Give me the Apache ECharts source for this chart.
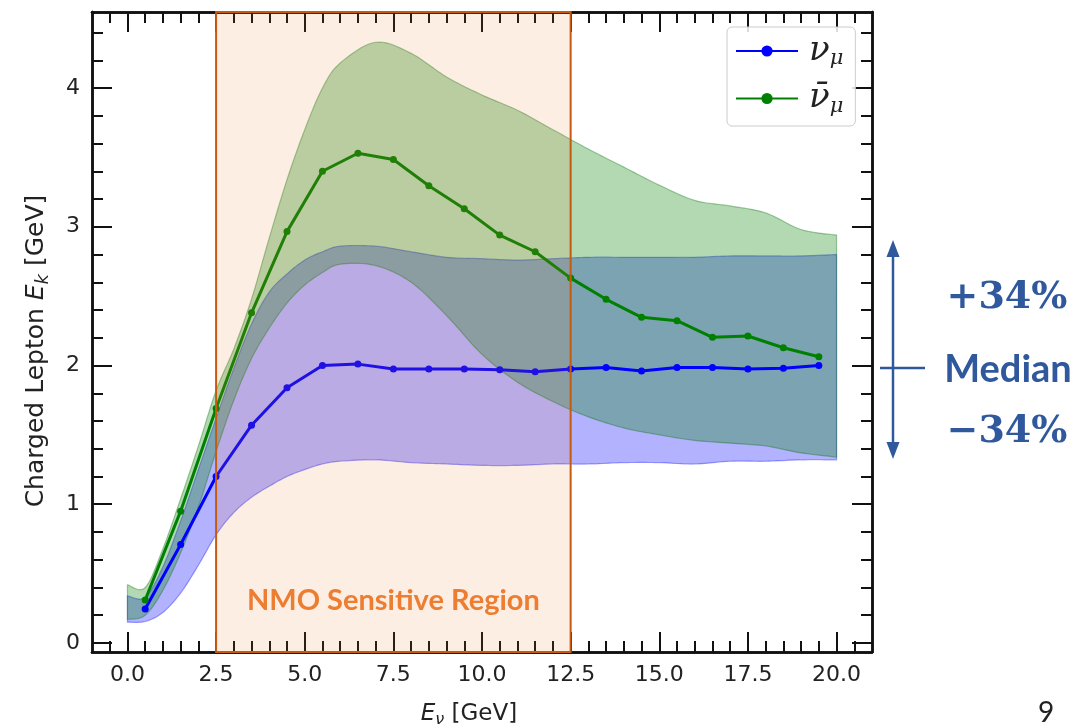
<!DOCTYPE html>
<html>
<head>
<meta charset="utf-8">
<script src="https://cdn.jsdelivr.net/npm/echarts@6/dist/echarts.min.js"></script>
<style>
  html, body { margin: 0; padding: 0; background: #ffffff; }
  #chart { width: 1081px; height: 727px; }
</style>
</head>
<body>
<div id="chart"></div>
<script>
// Neutrino energy grid for the ±34% bands (GeV)
const bandX = [0, 0.5, 1, 1.5, 2, 2.5, 3, 3.5, 4, 4.5, 5, 5.5, 6, 7, 8, 9, 10, 11, 12, 13, 14, 15, 16, 17, 18, 19, 20];
// nu_mu band: lower (-34%) and upper (+34%) edges of charged lepton energy
const numuLower = [0.15, 0.155, 0.22, 0.36, 0.56, 0.78, 0.94, 1.05, 1.13, 1.20, 1.25, 1.29, 1.31, 1.32, 1.30, 1.29, 1.28, 1.28, 1.29, 1.29, 1.30, 1.30, 1.29, 1.31, 1.31, 1.32, 1.32];
const numuUpper = [0.34, 0.33, 0.55, 0.88, 1.25, 1.62, 1.98, 2.30, 2.53, 2.66, 2.76, 2.82, 2.86, 2.86, 2.82, 2.78, 2.77, 2.76, 2.77, 2.78, 2.78, 2.78, 2.78, 2.79, 2.79, 2.79, 2.80];
// anti-nu_mu band edges
const numubarLower = [0.17, 0.20, 0.38, 0.65, 0.98, 1.38, 1.75, 2.05, 2.27, 2.45, 2.58, 2.67, 2.73, 2.72, 2.60, 2.36, 2.08, 1.88, 1.74, 1.63, 1.55, 1.50, 1.46, 1.44, 1.42, 1.37, 1.34];
const numubarUpper = [0.42, 0.40, 0.68, 1.04, 1.42, 1.82, 2.12, 2.48, 2.92, 3.34, 3.70, 4.00, 4.18, 4.33, 4.25, 4.08, 3.95, 3.84, 3.70, 3.56, 3.43, 3.30, 3.19, 3.15, 3.10, 2.98, 2.94];

// Bin centres and medians
const binCenters = [0.5, 1.5, 2.5, 3.5, 4.5, 5.5, 6.5, 7.5, 8.5, 9.5, 10.5, 11.5, 12.5, 13.5, 14.5, 15.5, 16.5, 17.5, 18.5, 19.5];
const numuMedian = [0.245, 0.71, 1.20, 1.57, 1.84, 2.00, 2.01, 1.975, 1.975, 1.975, 1.97, 1.955, 1.975, 1.985, 1.96, 1.985, 1.985, 1.975, 1.98, 2.00];
const numubarMedian = [0.31, 0.95, 1.69, 2.38, 2.965, 3.40, 3.53, 3.485, 3.296, 3.13, 2.94, 2.82, 2.63, 2.477, 2.347, 2.323, 2.203, 2.213, 2.128, 2.063];

// NMO sensitive energy window (GeV)
const nmoRegion = [2.5, 12.5];

// Tick positions
const xMajorTicks = [0, 2.5, 5, 7.5, 10, 12.5, 15, 17.5, 20];
const xMinorTicks = [-0.5, 0.5, 1, 1.5, 2, 3, 3.5, 4, 4.5, 5.5, 6, 6.5, 7, 8, 8.5, 9, 9.5, 10.5, 11, 11.5, 12, 13, 13.5, 14, 14.5, 15.5, 16, 16.5, 17, 18, 18.5, 19, 19.5, 20.5];
const yMajorTicks = [0, 1, 2, 3, 4];
const yMinorTicks = [0.2, 0.4, 0.6, 0.8, 1.2, 1.4, 1.6, 1.8, 2.2, 2.4, 2.6, 2.8, 3.2, 3.4, 3.6, 3.8, 4.2, 4.4];

const X_MIN = -1, X_MAX = 21, Y_MIN = -0.065, Y_MAX = 4.548;

const zip = (xs, ys) => xs.map((x, i) => [x, ys[i]]);

const TICK_COLOR = '#111';
const tickFont = { fontFamily: 'DejaVu Sans', fontSize: 22, color: '#222' };
const frame = { show: true, onZero: false, lineStyle: { color: TICK_COLOR, width: 2.5 } };
function nameRich(size) {
  return {
    t: { fontFamily: 'DejaVu Sans', fontSize: size, color: '#222' },
    i: { fontFamily: 'DejaVu Sans', fontStyle: 'italic', fontSize: size, color: '#222' },
    s: { fontFamily: 'DejaVu Sans', fontStyle: 'italic', fontSize: Math.round(size * 0.7), color: '#222', padding: [Math.round(size * 0.5), 0, 0, 0] }
  };
}

function axisDef(kind, grid, position, ticks, len, labels) {
  const isX = kind === 'x';
  return {
    type: 'value', gridIndex: grid, position,
    min: isX ? X_MIN : Y_MIN, max: isX ? X_MAX : Y_MAX,
    axisLine: frame,
    axisTick: { show: true, inside: true, length: len, customValues: ticks, lineStyle: { color: TICK_COLOR, width: 2 } },
    axisLabel: labels
      ? Object.assign({ show: true, margin: 12, customValues: isX ? xMajorTicks : yMajorTicks,
          formatter: v => isX ? v.toFixed(1) : String(v) }, tickFont)
      : { show: false },
    splitLine: { show: false }
  };
}

// grid 0 carries major ticks, labels and the data; grid 1 only minor ticks
const xAxes = [
  Object.assign(axisDef('x', 0, 'bottom', xMajorTicks, 20, true), {
    name: '{i|E}{s|ν}{t| [GeV]}', nameLocation: 'middle', nameGap: 48,
    nameTextStyle: { rich: nameRich(23), padding: [0, 26, 0, 0] }
  }),
  axisDef('x', 0, 'top', xMajorTicks, 20, false),
  axisDef('x', 1, 'bottom', xMinorTicks, 11, false),
  axisDef('x', 1, 'top', xMinorTicks, 11, false)
];
const yAxes = [
  Object.assign(axisDef('y', 0, 'left', yMajorTicks, 20, true), {
    name: '{t|Charged Lepton }{i|E}{s|k}{t| [GeV]}', nameLocation: 'middle', nameGap: 40,
    nameTextStyle: { rich: nameRich(25), padding: [0, 38, 0, 0] }
  }),
  axisDef('y', 0, 'right', yMajorTicks, 20, false),
  axisDef('y', 1, 'left', yMinorTicks, 11, false),
  axisDef('y', 1, 'right', yMinorTicks, 11, false)
];

// Catmull-Rom sampling of a pixel polyline, for smooth band outlines
function smoothPoints(pts, steps) {
  const out = [pts[0]];
  for (let i = 0; i < pts.length - 1; i++) {
    const p0 = pts[Math.max(i - 1, 0)], p1 = pts[i], p2 = pts[i + 1], p3 = pts[Math.min(i + 2, pts.length - 1)];
    for (let s = 1; s <= steps; s++) {
      const t = s / steps, t2 = t * t, t3 = t2 * t;
      const f = k => 0.5 * (2 * p1[k] + (-p0[k] + p2[k]) * t + (2 * p0[k] - 5 * p1[k] + 4 * p2[k] - p3[k]) * t2 + (-p0[k] + 3 * p1[k] - 3 * p2[k] + p3[k]) * t3);
      out.push([f(0), f(1)]);
    }
  }
  return out;
}

function bandSeries(name, lower, upper, fill, stroke) {
  return {
    type: 'custom', name, silent: true, z: 2,
    data: bandX.map((x, i) => [x, lower[i], upper[i]]),
    encode: { x: 0, y: [1, 2] },
    renderItem: (params, api) => {
      if (params.dataIndex !== 0) return null;
      const up = bandX.map((x, i) => api.coord([x, upper[i]]));
      const lo = bandX.map((x, i) => api.coord([x, lower[i]])).reverse();
      const pts = smoothPoints(up, 10).concat(smoothPoints(lo, 10));
      return {
        type: 'polygon',
        shape: { points: pts },
        style: { fill, stroke, lineWidth: 1.2 }
      };
    }
  };
}

const legendText = { numu: '{n|ν}{s|μ}', numubar: '{n|ν̄}{s|μ}' };
const ANNOT = '#30589c';
const gridBox = { left: 92, right: 209, top: 12, bottom: 75, containLabel: false, outerBoundsMode: 'none' };

const option = {
  backgroundColor: '#ffffff',
  animation: false,
  grid: [Object.assign({}, gridBox), Object.assign({}, gridBox)],
  xAxis: xAxes,
  yAxis: yAxes,
  legend: {
    data: ['numu', 'numubar'],
    orient: 'vertical',
    left: 727, top: 27,
    padding: [7, 12, 9, 8],
    itemGap: 12,
    itemWidth: 62,
    itemHeight: 14,
    backgroundColor: 'rgba(255,255,255,0.85)',
    borderColor: '#cccccc',
    borderWidth: 1,
    borderRadius: 5,
    formatter: name => legendText[name],
    textStyle: {
      rich: {
        n: { fontFamily: 'DejaVu Serif', fontStyle: 'italic', fontSize: 34, color: '#222', padding: [0, 0, 0, 6] },
        s: { fontFamily: 'DejaVu Serif', fontStyle: 'italic', fontSize: 21, color: '#222', padding: [16, 0, 0, 0] }
      }
    }
  },
  series: [
    bandSeries('numuBand', numuLower, numuUpper, 'rgba(0,0,255,0.3)', 'rgba(0,0,255,0.35)'),
    bandSeries('numubarBand', numubarLower, numubarUpper, 'rgba(0,128,0,0.3)', 'rgba(0,110,0,0.35)'),
    {
      type: 'line', name: 'numu', data: zip(binCenters, numuMedian),
      symbol: 'circle', symbolSize: 7, z: 4,
      itemStyle: { color: '#0000ff' },
      lineStyle: { color: '#0000ff', width: 3 }
    },
    {
      type: 'line', name: 'numubar', data: zip(binCenters, numubarMedian),
      symbol: 'circle', symbolSize: 7, z: 4,
      itemStyle: { color: '#008000' },
      lineStyle: { color: '#008000', width: 3 }
    },
    {
      type: 'custom', name: 'nmo', silent: true, z: 6,
      data: [nmoRegion],
      encode: { x: [0, 1] },
      renderItem: (params, api) => {
        const cs = params.coordSys;
        const x0 = api.coord([api.value(0), 0])[0];
        const x1 = api.coord([api.value(1), 0])[0];
        return {
          type: 'group',
          children: [
            {
              type: 'rect',
              shape: { x: x0, y: cs.y, width: x1 - x0, height: cs.height },
              style: { fill: 'rgba(237,125,49,0.13)', stroke: '#c55a11', lineWidth: 2 }
            },
            {
              type: 'text',
              style: {
                text: 'NMO Sensitive Region',
                x: (x0 + x1) / 2, y: cs.y + cs.height - 51,
                align: 'center', verticalAlign: 'middle',
                font: 'bold 29px Lato', fill: '#ed7d31'
              }
            }
          ]
        };
      }
    }
  ],
  graphic: [
    { type: 'line', shape: { x1: 893, y1: 252, x2: 893, y2: 448 }, style: { stroke: ANNOT, lineWidth: 2.5 } },
    { type: 'polygon', shape: { points: [[893, 240], [886.5, 257], [899.5, 257]] }, style: { fill: ANNOT } },
    { type: 'polygon', shape: { points: [[893, 459], [886.5, 442], [899.5, 442]] }, style: { fill: ANNOT } },
    { type: 'line', shape: { x1: 880, y1: 368, x2: 925, y2: 368 }, style: { stroke: ANNOT, lineWidth: 2.5 } },
    { type: 'text', style: { text: '+34%', x: 1007, y: 298, align: 'center', verticalAlign: 'middle', font: 'bold 38px "DejaVu Serif"', fill: ANNOT } },
    { type: 'text', style: { text: 'Median', x: 1008, y: 370, align: 'center', verticalAlign: 'middle', font: 'bold 38px Lato', fill: ANNOT } },
    { type: 'text', style: { text: '−34%', x: 1007, y: 432, align: 'center', verticalAlign: 'middle', font: 'bold 38px "DejaVu Serif"', fill: ANNOT } },
    { type: 'text', style: { text: '9', x: 1046, y: 713, align: 'center', verticalAlign: 'middle', font: '28px Lato', fill: '#222' } }
  ]
};

const chart = echarts.init(document.getElementById('chart'), null, { renderer: 'canvas' });
chart.setOption(option);
</script>
</body>
</html>
